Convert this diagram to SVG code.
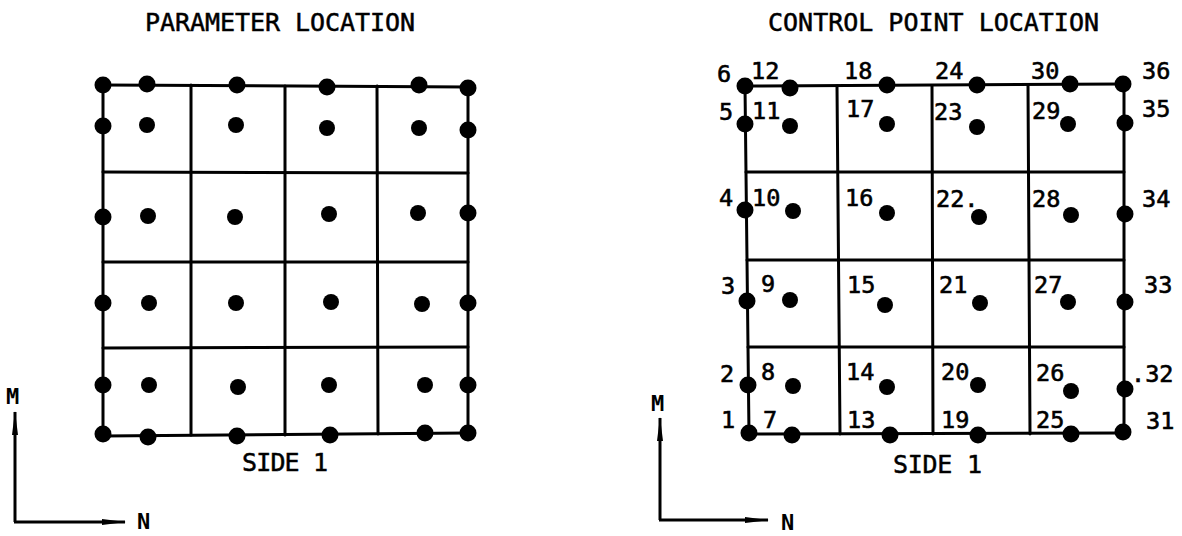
<svg xmlns="http://www.w3.org/2000/svg" width="1182" height="536" viewBox="0 0 1182 536">
<style>
.bg{fill:#fff}
.ln{stroke:#000;stroke-width:3;fill:none;stroke-linecap:round}
.ax{stroke:#000;stroke-width:3;fill:none}
.d{fill:#000}
.t{font-family:"DejaVu Sans Mono","Liberation Mono",monospace;font-size:25px;fill:#000;stroke:#000;stroke-width:0.5px}
.n{font-family:"DejaVu Sans Mono","Liberation Mono",monospace;font-size:23.5px;fill:#000;stroke:#000;stroke-width:0.6px}
.a{font-family:"DejaVu Sans Mono","Liberation Mono",monospace;font-size:22px;font-weight:bold;fill:#000}
</style>
<defs>
<marker id="ah" viewBox="0 0 24 8" refX="23" refY="4" markerWidth="24" markerHeight="8" markerUnits="userSpaceOnUse" orient="auto">
<path d="M0,1 L24,4 L0,7 Z" fill="#000"/>
</marker>
</defs>
<rect class="bg" x="0" y="0" width="1182" height="536"/>

<g id="titles">
<text class="t" x="145" y="31" textLength="270" lengthAdjust="spacing">PARAMETER LOCATION</text>
<text class="t" x="768" y="31" textLength="331" lengthAdjust="spacing">CONTROL POINT LOCATION</text>
<text class="t" x="242" y="471" textLength="86" lengthAdjust="spacing">SIDE 1</text>
<text class="t" x="893" y="473" textLength="89" lengthAdjust="spacing">SIDE 1</text>
</g>

<g id="connectors">
<g id="left-grid-lines">
<line class="ln" x1="103" y1="85" x2="468" y2="87"/>
<line class="ln" x1="103" y1="172" x2="468" y2="173"/>
<line class="ln" x1="103" y1="262" x2="468" y2="262"/>
<line class="ln" x1="103" y1="348" x2="468" y2="347"/>
<line class="ln" x1="103" y1="436" x2="468" y2="433"/>
<line class="ln" x1="103" y1="85" x2="103" y2="436"/>
<line class="ln" x1="191" y1="85" x2="191" y2="435"/>
<line class="ln" x1="285" y1="86" x2="285" y2="435"/>
<line class="ln" x1="377" y1="86" x2="378" y2="434"/>
<line class="ln" x1="468" y1="87" x2="468" y2="433"/>
</g>
<g id="right-grid-lines">
<line class="ln" x1="745" y1="86" x2="1124" y2="84"/>
<line class="ln" x1="746" y1="172" x2="1124" y2="172"/>
<line class="ln" x1="747" y1="260" x2="1124" y2="260"/>
<line class="ln" x1="748" y1="347" x2="1124" y2="347"/>
<line class="ln" x1="749" y1="434" x2="1124" y2="433"/>
<line class="ln" x1="745" y1="86" x2="749" y2="434"/>
<line class="ln" x1="837" y1="86" x2="840" y2="434"/>
<line class="ln" x1="932" y1="86" x2="933" y2="434"/>
<line class="ln" x1="1028" y1="85" x2="1030" y2="434"/>
<line class="ln" x1="1124" y1="84" x2="1124" y2="433"/>
</g>
<g id="axes-left">
<line class="ax" x1="15" y1="522" x2="15" y2="412" marker-end="url(#ah)"/>
<line class="ax" x1="14" y1="522" x2="125" y2="522" marker-end="url(#ah)"/>
</g>
<g id="axes-right">
<line class="ax" x1="660" y1="520" x2="660" y2="418" marker-end="url(#ah)"/>
<line class="ax" x1="659" y1="520" x2="768" y2="520" marker-end="url(#ah)"/>
</g>
</g>

<g id="axis-labels">
<text class="a" x="6" y="404">M</text>
<text class="a" x="137" y="529">N</text>
<text class="a" x="651" y="411">M</text>
<text class="a" x="781" y="530">N</text>
</g>

<g id="parameter-points">
<circle class="d" cx="103" cy="85" r="8.5"/><circle class="d" cx="147" cy="84" r="8.5"/><circle class="d" cx="237" cy="85" r="8.5"/><circle class="d" cx="327" cy="87" r="8.5"/><circle class="d" cx="419" cy="85" r="8.5"/><circle class="d" cx="468" cy="88" r="8.5"/>
<circle class="d" cx="103" cy="126" r="8.5"/><circle class="d" cx="147" cy="125" r="8"/><circle class="d" cx="236" cy="125" r="8"/><circle class="d" cx="327" cy="128" r="8"/><circle class="d" cx="419" cy="128" r="8"/><circle class="d" cx="468" cy="130" r="8.5"/>
<circle class="d" cx="103" cy="217" r="8.5"/><circle class="d" cx="148" cy="216" r="8"/><circle class="d" cx="235" cy="217" r="8"/><circle class="d" cx="329" cy="214" r="8"/><circle class="d" cx="418" cy="213" r="8"/><circle class="d" cx="468" cy="213" r="8.5"/>
<circle class="d" cx="103" cy="303" r="8.5"/><circle class="d" cx="149" cy="303" r="8"/><circle class="d" cx="236" cy="303" r="8"/><circle class="d" cx="331" cy="302" r="8"/><circle class="d" cx="422" cy="304" r="8"/><circle class="d" cx="468" cy="303" r="8.5"/>
<circle class="d" cx="103" cy="385" r="8.5"/><circle class="d" cx="149" cy="385" r="8"/><circle class="d" cx="238" cy="387" r="8"/><circle class="d" cx="329" cy="385" r="8"/><circle class="d" cx="425" cy="385" r="8"/><circle class="d" cx="468" cy="385" r="8.5"/>
<circle class="d" cx="103" cy="434" r="8.5"/><circle class="d" cx="148" cy="437" r="8.5"/><circle class="d" cx="237" cy="436" r="8.5"/><circle class="d" cx="330" cy="435" r="8.5"/><circle class="d" cx="425" cy="433" r="8.5"/><circle class="d" cx="468" cy="433" r="8.5"/>
</g>

<g id="control-points">
<g id="cp1"><circle class="d" cx="749" cy="433" r="8.5"/><text class="n" x="721" y="428">1</text></g>
<g id="cp2"><circle class="d" cx="748" cy="385" r="8.5"/><text class="n" x="720" y="382">2</text></g>
<g id="cp3"><circle class="d" cx="747" cy="301" r="8.5"/><text class="n" x="721" y="294">3</text></g>
<g id="cp4"><circle class="d" cx="745" cy="210" r="8.5"/><text class="n" x="719" y="206">4</text></g>
<g id="cp5"><circle class="d" cx="745" cy="124" r="8.5"/><text class="n" x="719" y="120">5</text></g>
<g id="cp6"><circle class="d" cx="745" cy="86" r="8.5"/><text class="n" x="717" y="82">6</text></g>
<g id="cp7"><circle class="d" cx="792" cy="435" r="8.5"/><text class="n" x="763" y="428">7</text></g>
<g id="cp8"><circle class="d" cx="793" cy="386" r="8"/><text class="n" x="761" y="380">8</text></g>
<g id="cp9"><circle class="d" cx="790" cy="300" r="8"/><text class="n" x="761" y="292">9</text></g>
<g id="cp10"><circle class="d" cx="793" cy="211" r="8"/><text class="n" x="752" y="206">10</text></g>
<g id="cp11"><circle class="d" cx="790" cy="126" r="8"/><text class="n" x="752" y="119">11</text></g>
<g id="cp12"><circle class="d" cx="790" cy="88" r="8.5"/><text class="n" x="751" y="79">12</text></g>
<g id="cp13"><circle class="d" cx="890" cy="435" r="8.5"/><text class="n" x="847" y="428">13</text></g>
<g id="cp14"><circle class="d" cx="887" cy="387" r="8"/><text class="n" x="846" y="380">14</text></g>
<g id="cp15"><circle class="d" cx="885" cy="305" r="8"/><text class="n" x="847" y="293">15</text></g>
<g id="cp16"><circle class="d" cx="887" cy="213" r="8"/><text class="n" x="845" y="206">16</text></g>
<g id="cp17"><circle class="d" cx="887" cy="124" r="8"/><text class="n" x="846" y="117">17</text></g>
<g id="cp18"><circle class="d" cx="887" cy="85" r="8.5"/><text class="n" x="844" y="79">18</text></g>
<g id="cp19"><circle class="d" cx="978" cy="435" r="8.5"/><text class="n" x="941" y="428">19</text></g>
<g id="cp20"><circle class="d" cx="978" cy="385" r="8"/><text class="n" x="941" y="380">20</text></g>
<g id="cp21"><circle class="d" cx="980" cy="303" r="8"/><text class="n" x="939" y="293">21</text></g>
<g id="cp22"><circle class="d" cx="979" cy="217" r="8"/><text class="n" x="936" y="207">22.</text></g>
<g id="cp23"><circle class="d" cx="977" cy="127" r="8"/><text class="n" x="934" y="120">23</text></g>
<g id="cp24"><circle class="d" cx="977" cy="85" r="8.5"/><text class="n" x="935" y="79">24</text></g>
<g id="cp25"><circle class="d" cx="1071" cy="434" r="8.5"/><text class="n" x="1036" y="428">25</text></g>
<g id="cp26"><circle class="d" cx="1071" cy="391" r="8"/><text class="n" x="1036" y="381">26</text></g>
<g id="cp27"><circle class="d" cx="1068" cy="302" r="8"/><text class="n" x="1034" y="293">27</text></g>
<g id="cp28"><circle class="d" cx="1071" cy="215" r="8"/><text class="n" x="1032" y="207">28</text></g>
<g id="cp29"><circle class="d" cx="1068" cy="124" r="8"/><text class="n" x="1032" y="119">29</text></g>
<g id="cp30"><circle class="d" cx="1070" cy="84" r="8.5"/><text class="n" x="1031" y="79">30</text></g>
<g id="cp31"><circle class="d" cx="1123" cy="432" r="8.5"/><text class="n" x="1146" y="429">31</text></g>
<g id="cp32"><circle class="d" cx="1125" cy="389" r="8.5"/><text class="n" x="1131" y="382">.32</text></g>
<g id="cp33"><circle class="d" cx="1125" cy="302" r="8.5"/><text class="n" x="1144" y="293">33</text></g>
<g id="cp34"><circle class="d" cx="1125" cy="214" r="8.5"/><text class="n" x="1142" y="207">34</text></g>
<g id="cp35"><circle class="d" cx="1125" cy="123" r="8.5"/><text class="n" x="1142" y="117">35</text></g>
<g id="cp36"><circle class="d" cx="1123" cy="84" r="8.5"/><text class="n" x="1142" y="79">36</text></g>
</g>
</svg>
